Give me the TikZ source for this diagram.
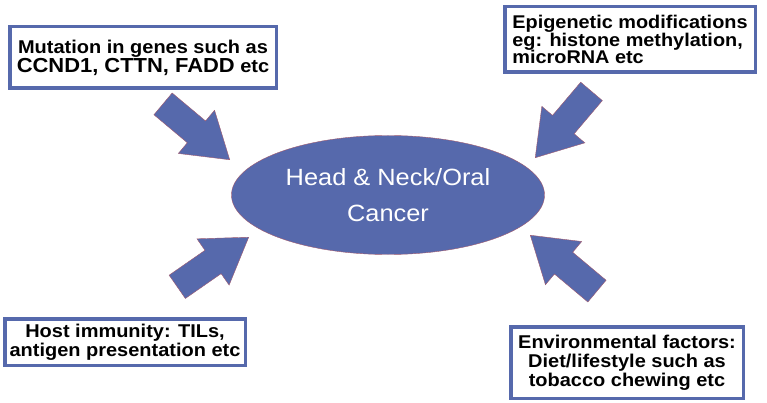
\documentclass[tikz,border=0pt]{standalone}
\usepackage{fontspec}
\setmainfont{Liberation Sans}[FakeStretch=1.08]
\usetikzlibrary{shapes.geometric,shapes.arrows}

\definecolor{cancerblue}{RGB}{86,105,172}
\definecolor{rimred}{RGB}{160,90,110}

\begin{document}
\begin{tikzpicture}[x=1pt, y=-1pt,
            factor/.style={draw=cancerblue, line width=3.5pt, fill=white, inner sep=0pt, align=center,
                    font=\bfseries\fontsize{18.5}{19}\selectfont},
            cancer/.style={ellipse, fill=cancerblue, draw=rimred, line width=0.4pt, text=white, align=center,
                    inner sep=0pt, minimum width=313pt, minimum height=119pt, font=\fontsize{23.5}{36}\selectfont},
            push/.style={single arrow, fill=cancerblue, draw=rimred, line width=0.4pt, inner xsep=0pt, inner ysep=14pt,
                    single arrow head extend=14pt, single arrow tip angle=66, minimum height=87pt}
        ]

        \useasboundingbox (0,0) rectangle (767,403);

        % The cancer in the middle
        \node[cancer] (hnc) at (388,195) {Head \& Neck/Oral\\Cancer};

        % One box for each factor
        \node[factor, minimum width=266.5pt, minimum height=61.5pt] (mut) at (143,57.5)
            {Mutation in genes such as\\{\fontsize{20.3}{19}\selectfont CCND1, CTTN, FADD} etc};
        \node[factor, align=left, minimum width=250.5pt, minimum height=65.5pt,
            font=\bfseries\fontsize{18.4}{17.8}\selectfont] (epi) at (630,39.5)
            {Epigenetic modifications\\eg: histone methylation,\\microRNA etc};
        \node[factor, minimum width=240.5pt, minimum height=46.5pt] (imm) at (125,342)
            {Host immunity: TILs,\\antigen presentation etc};
        \node[factor, minimum width=232.5pt, minimum height=71.5pt] (env) at (627,362.5)
            {Environmental factors:\\Diet/lifestyle such as\\tobacco chewing etc};

        % Block arrows from tail to tip
        \foreach \tx/\ty/\hx/\hy [count=\n] in {162/103/230/160, 591/92/535/158, 177/287/249/237, 598/292/530/235} {
                \coordinate (t\n) at (\tx,\ty);
                \coordinate (h\n) at (\hx,\hy);
                \path (t\n) -- (h\n) node[push, pos=1, sloped, allow upside down, anchor=tip] (a\n) {};
            }
    \end{tikzpicture}
\end{document}
